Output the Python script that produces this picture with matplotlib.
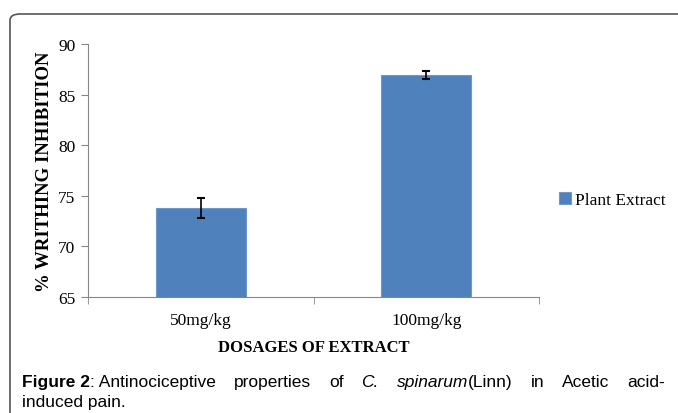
import matplotlib.pyplot as plt
from matplotlib.patches import FancyBboxPatch

dosages = ["50mg/kg", "100mg/kg"]
inhibition = [73.8, 86.9]
errors = [1.0, 0.4]
series_name = "Plant Extract"

caption_words = [("Figure 2", "bold", "normal"),
                 (": Antinociceptive", "normal", "normal"), ("properties", "normal", "normal"),
                 ("of", "normal", "normal"), ("C.", "normal", "italic"),
                 ("spinarum", "normal", "italic"), ("(Linn)", "normal", "normal"),
                 ("in", "normal", "normal"), ("Acetic", "normal", "normal"),
                 ("acid-", "normal", "normal")]

W, H = 678, 414
fig = plt.figure(figsize=(W / 100, H / 100), dpi=100)

# outer rounded frame
frame = FancyBboxPatch((10 / W, -0.2), 1.2, 1 - 15 / H + 0.2,
                       boxstyle="round,pad=0,rounding_size=0.015",
                       transform=fig.transFigure, facecolor="none",
                       edgecolor="#555555", linewidth=1.2, zorder=-1)
fig.patches.append(frame)

ax = fig.add_axes([88 / W, 1 - 298 / H, (539 - 88) / W, (298 - 45) / H])
ax.set_facecolor("none")
x = range(len(dosages))
ax.bar(x, inhibition, width=0.4, color="#4F81BD", edgecolor="#6E98CC",
       linewidth=0.8, label=series_name, zorder=2)
ax.errorbar(x, inhibition, yerr=errors, fmt="none", ecolor="black",
            elinewidth=1.2, capsize=3, capthick=1.5, zorder=3)

ax.set_xlim(-0.5, 1.5)
ax.set_ylim(65, 90)
ax.set_yticks(range(65, 91, 5))
ax.set_xticks(list(x))
ax.set_xticklabels(dosages)
ax.set_xticks([-0.5, 0.5, 1.5], minor=True)

serif = "Liberation Serif"
for lab in ax.get_xticklabels() + ax.get_yticklabels():
    lab.set_fontfamily(serif)
    lab.set_fontsize(12.5)
ax.tick_params(axis="x", which="major", length=0, pad=11)
ax.tick_params(axis="x", which="minor", length=5, color="#868686", direction="out")
ax.tick_params(axis="y", length=5, color="#868686", direction="out", pad=4)

for s in ["top", "right"]:
    ax.spines[s].set_visible(False)
for s in ["left", "bottom"]:
    ax.spines[s].set_color("#868686")

ax.set_ylabel("% WRITHING INHIBITION", fontfamily=serif, fontweight="bold",
              fontsize=13.5, labelpad=4)
ax.set_xlabel("DOSAGES OF EXTRACT", fontfamily=serif, fontweight="bold",
              fontsize=12, labelpad=8)

ax.legend(loc="center left", bbox_to_anchor=(1.01, 0.385), frameon=False,
          prop={"family": serif, "size": 12.5}, handlelength=0.7,
          handleheight=0.7, handletextpad=0.2)

# justified caption, first line
fig.canvas.draw()
renderer = fig.canvas.get_renderer()
texts = []
for word, weight, style in caption_words:
    t = fig.text(0, 1 - 383 / H, word, fontfamily="Liberation Sans",
                 fontweight=weight, fontstyle=style, fontsize=12.5, va="center")
    texts.append(t)
widths = [t.get_window_extent(renderer).width for t in texts]
glued = [w[0].startswith(":") or w[0].startswith("(") for w in caption_words]
n_gaps = sum(1 for g in glued[1:] if not g)
left, right = 22, 665
gap = (right - left - sum(widths)) / n_gaps
pos = left
for i, t in enumerate(texts):
    if i > 0 and not glued[i]:
        pos += gap
    t.set_x(pos / W)
    pos += widths[i]
fig.text(22 / W, 1 - 403 / H, "induced pain.", fontfamily="Liberation Sans",
         fontsize=12.5, va="center")

fig.savefig("out.png", dpi=100)
